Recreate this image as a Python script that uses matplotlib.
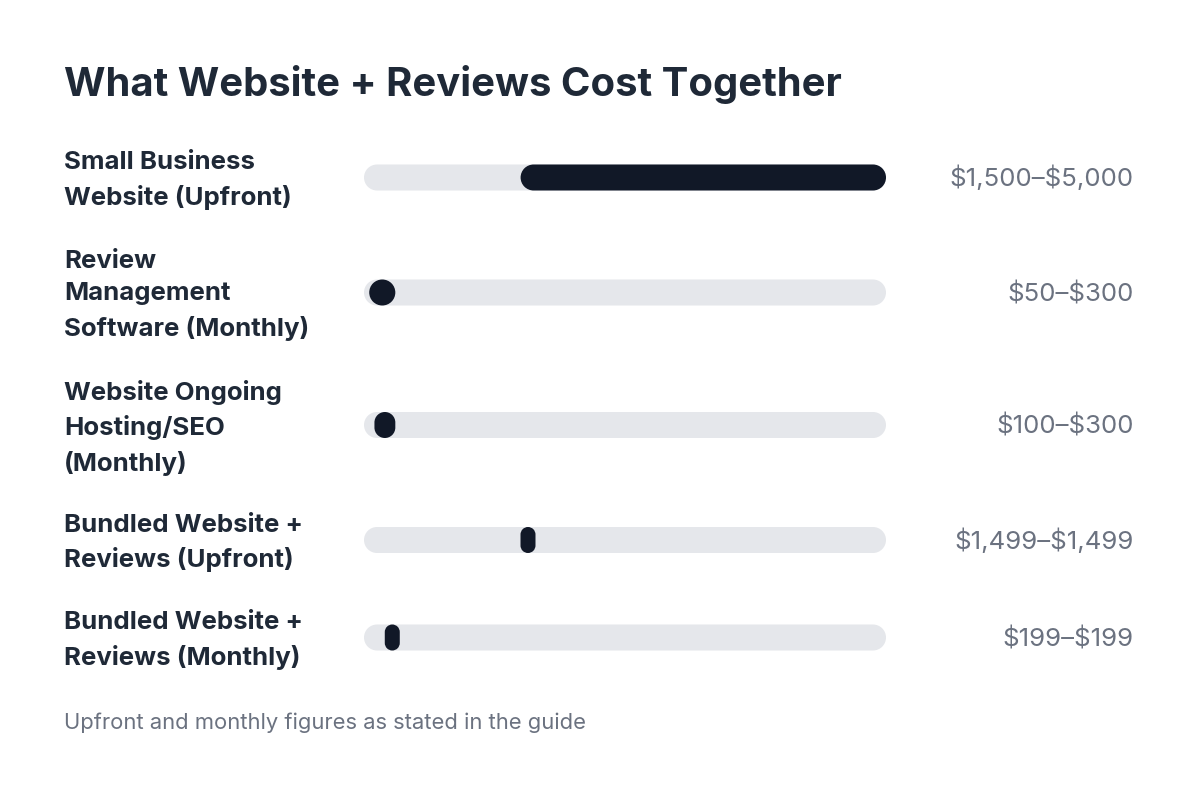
import matplotlib
matplotlib.use("Agg")
import matplotlib.pyplot as plt
import numpy as np
from matplotlib.path import Path
from matplotlib.patches import PathPatch

plt.rcParams['font.family'] = ['Inter', 'DejaVu Sans']

title = "What Website + Reviews Cost Together"
footnote = "Upfront and monthly figures as stated in the guide"
categories = [
    "Small Business\nWebsite (Upfront)",
    "Review\nManagement\nSoftware (Monthly)",
    "Website Ongoing\nHosting/SEO\n(Monthly)",
    "Bundled Website +\nReviews (Upfront)",
    "Bundled Website +\nReviews (Monthly)",
]
low_values = [1500, 50, 100, 1499, 199]
high_values = [5000, 300, 300, 1499, 199]
value_labels = ["$1,500–$5,000", "$50–$300", "$100–$300", "$1,499–$1,499", "$199–$199"]
scale_max = 5000

W, H = 1200, 793
DPI = 100
fig = plt.figure(figsize=(W / DPI, H / DPI), dpi=DPI)
fig.patch.set_facecolor("white")

track_left, track_right = 364, 886
ax = fig.add_axes([track_left / W, 0, (track_right - track_left) / W, 1])
ax.set_xlim(0, scale_max)
ax.set_ylim(H, 0)
ax.axis("off")

px_per_unit = (track_right - track_left) / scale_max  # pixels per dollar
row_y = [177.5, 292.5, 425, 540, 637.5]
bar_h = 26
min_w_px = 15

TRACK = "#e5e7eb"
DARK = "#111827"
TEXT = "#1f2937"
GRAY = "#6b7280"


def pill(x0, x1, yc, color, z):
    w_px = (x1 - x0) * px_per_unit
    r_px = min(bar_h / 2, w_px / 2)
    rx = r_px / px_per_unit
    ry = r_px
    bot, top = yc - bar_h / 2, yc + bar_h / 2
    corners = [((x1 - rx, bot + ry), -90, 0),
               ((x1 - rx, top - ry), 0, 90),
               ((x0 + rx, top - ry), 90, 180),
               ((x0 + rx, bot + ry), 180, 270)]
    verts, codes = [], []
    for k, (c, t1, t2) in enumerate(corners):
        a = Path.arc(t1, t2)
        v = a.vertices * np.array([rx, ry]) + np.array(c)
        cd = list(a.codes)
        if k > 0:
            cd[0] = Path.LINETO
        verts.extend(v.tolist())
        codes.extend(cd)
    verts.append(verts[0])
    codes.append(Path.CLOSEPOLY)
    ax.add_patch(PathPatch(Path(verts, codes), facecolor=color,
                           edgecolor="none", zorder=z))


for i, (cat, lo, hi, lab) in enumerate(zip(categories, low_values, high_values, value_labels)):
    y = row_y[i]
    pill(0, scale_max, y, TRACK, 1)
    hi_eff = max(hi, lo + min_w_px / px_per_unit)
    pill(lo, hi_eff, y, DARK, 2)
    fig.text(64 / W, 1 - (y + 3) / H, cat, ha="left", va="center", fontsize=18.6,
             fontweight="bold", color=TEXT, linespacing=1.52)
    fig.text(1134 / W, 1 - (y + 9) / H, lab, ha="right", va="baseline",
             fontsize=18.6, color=GRAY, parse_math=False)

fig.text(64 / W, 1 - 96 / H, title, ha="left", va="baseline", fontsize=28.8,
         fontweight="bold", color=TEXT)
fig.text(64 / W, 1 - 729 / H, footnote, ha="left", va="baseline", fontsize=15.8,
         color=GRAY)

fig.savefig("out.png", dpi=DPI, facecolor="white")
